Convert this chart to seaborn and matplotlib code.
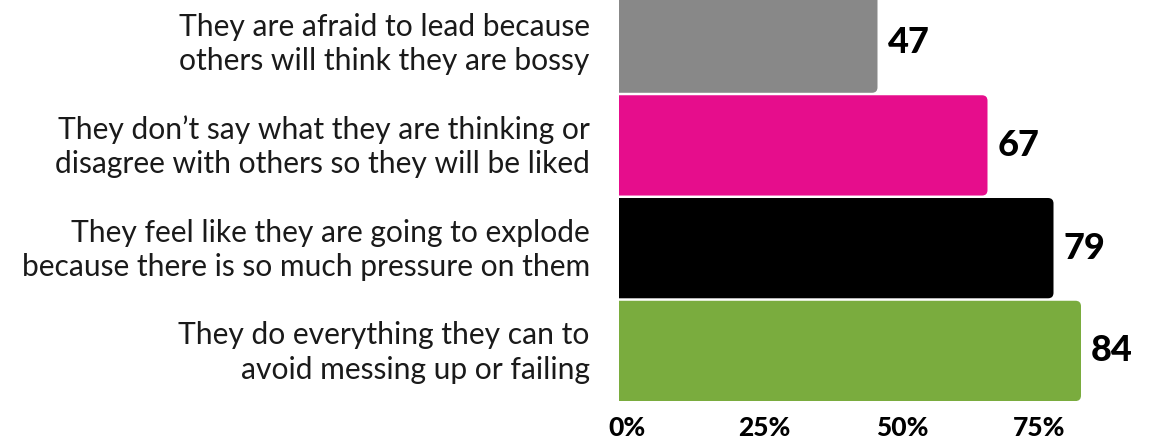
import matplotlib
matplotlib.use("Agg")
import matplotlib.pyplot as plt
import matplotlib.transforms as mtransforms
from matplotlib.patches import FancyBboxPatch
import seaborn as sns
import pandas as pd

categories = [
    "They are afraid to lead because\nothers will think they are bossy",
    "They don\u2019t say what they are thinking or\ndisagree with others so they will be liked",
    "They feel like they are going to explode\nbecause there is so much pressure on them",
    "They do everything they can to\navoid messing up or failing",
]
values = [47, 67, 79, 84]
colors = ["#888888", "#E60D8C", "#000000", "#7AAC3E"]
tick_values = [0, 25, 50, 75]
tick_labels = ["0%", "25%", "50%", "75%"]

sns.set_theme(style="white")
plt.rcParams["font.family"] = ["Lato", "DejaVu Sans"]

df = pd.DataFrame({"category": categories, "value": values})

fig = plt.figure(figsize=(11.49, 4.42), dpi=100)
ax = fig.add_axes([619 / 1149, 1 - 401 / 442, 530 / 1149, 401 / 442])

sns.barplot(data=df, x="value", y="category", hue="category", palette=colors,
            orient="h", width=0.976, legend=False, ax=ax, saturation=1)

ax.set_xlim(0, 530 / 5.5)
ax.set_ylim(3.4875, -0.415)

px_x = 5.5
px_y = 102.5
for patch, val, col in zip(list(ax.patches), values, colors):
    x, y = patch.get_x(), patch.get_y()
    w, h = patch.get_width(), patch.get_height()
    patch.set_visible(False)
    fb = FancyBboxPatch((x - 3, y), w + 3, h,
                        boxstyle="round,pad=0,rounding_size=1.0",
                        mutation_aspect=px_x / px_y,
                        facecolor=col, edgecolor="none", clip_on=True)
    ax.add_patch(fb)
    ax.annotate(f"{val}", xy=(x + w, y + h / 2), xytext=(10, 0),
                textcoords="offset pixels", va="center", ha="left",
                fontsize=26, fontweight="black", color="black")

sns.despine(ax=ax, left=True, bottom=True, top=True, right=True)
ax.set_xlabel("")
ax.set_ylabel("")
ax.tick_params(axis="both", length=0)
ax.set_yticks(range(len(categories)))
ax.set_yticklabels(categories, fontsize=21.6, fontweight="normal", color="#1a1a1a",
                   linespacing=1.27)
ax.tick_params(axis="y", pad=21)
yoff = mtransforms.ScaledTranslation(0, 4 / 100, fig.dpi_scale_trans)
for lbl in ax.get_yticklabels():
    lbl.set_transform(lbl.get_transform() + yoff)
ax.set_xticks(tick_values)
ax.set_xticklabels(tick_labels, fontsize=19, fontweight="black", color="black")
ax.tick_params(axis="x", pad=11)
offset = mtransforms.ScaledTranslation(8 / 100, 0, fig.dpi_scale_trans)
for lbl in ax.get_xticklabels():
    lbl.set_transform(lbl.get_transform() + offset)

fig.savefig("out.png", dpi=100)
